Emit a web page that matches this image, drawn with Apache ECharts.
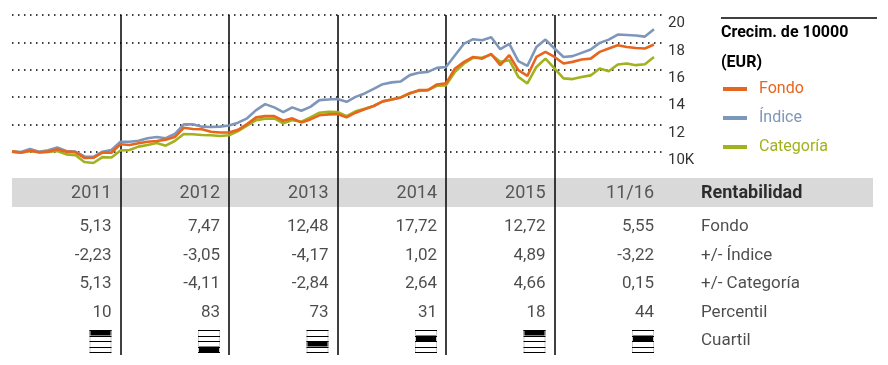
<!DOCTYPE html>
<html>
<head>
<meta charset="utf-8">
<script src="https://cdn.jsdelivr.net/npm/echarts@6/dist/echarts.min.js"></script>
<style>
html,body{margin:0;padding:0;background:#fff;}
#chart{width:888px;height:365px;}
</style>
</head>
<body>
<div id="chart"></div>
<script>
// ---- data ----
const fondo = [10.0,9.93,10.07,9.95,10.0,10.17,10.0,9.97,9.54,9.55,9.93,9.92,
  10.54,10.49,10.61,10.73,10.78,10.88,11.07,11.75,11.66,11.64,11.46,11.4,
  11.4,11.6,12.02,12.51,12.6,12.6,12.26,12.44,12.14,12.36,12.66,12.73,
  12.75,12.51,12.85,13.1,13.34,13.68,13.82,13.97,14.26,14.5,14.5,14.92,
  15.0,16.09,16.57,16.93,16.81,17.15,16.33,17.06,15.96,15.55,16.93,17.3,
  16.93,16.45,16.57,16.74,16.81,17.3,17.55,17.79,17.66,17.59,17.55,17.84];
const indice = [10.0,9.98,10.2,10.0,10.1,10.3,10.05,10.0,9.65,9.62,10.0,10.12,
  10.73,10.73,10.8,10.98,11.07,10.98,11.29,12.0,12.0,11.83,11.8,11.83,
  11.92,12.12,12.44,13.04,13.48,13.24,12.9,13.24,12.99,13.28,13.77,13.82,
  13.85,13.65,14.01,14.26,14.6,14.94,15.07,15.14,15.6,15.77,15.84,16.13,
  16.2,17.06,17.91,18.23,18.15,18.37,17.5,17.88,16.62,16.28,17.66,18.2,
  17.55,16.93,16.99,17.23,17.47,17.96,18.2,18.57,18.54,18.5,18.42,18.96];
const categoria = [10.0,9.95,10.05,9.97,9.98,10.05,9.8,9.75,9.25,9.17,9.6,9.57,
  10.08,10.12,10.37,10.49,10.63,10.44,10.78,11.29,11.27,11.22,11.2,11.15,
  11.2,11.5,11.9,12.31,12.41,12.43,12.07,12.31,12.19,12.51,12.85,12.92,
  12.9,12.6,12.95,13.14,13.34,13.68,13.82,13.97,14.3,14.45,14.5,14.82,
  14.85,15.84,16.45,16.86,16.89,17.1,16.57,16.69,15.47,14.99,16.2,16.81,
  16.09,15.36,15.31,15.47,15.58,16.09,15.89,16.38,16.45,16.33,16.4,16.93];
const periods = ['2011','2012','2013','2014','2015','11/16'];
const headerTitle = 'Rentabilidad';
const rowNames = ['Fondo','+/- Índice','+/- Categoría','Percentil','Cuartil'];
const rowFondo = ['5,13','7,47','12,48','17,72','12,72','5,55'];
const rowIndice = ['-2,23','-3,05','-4,17','1,02','4,89','-3,22'];
const rowCategoria = ['5,13','-4,11','-2,84','2,64','4,66','0,15'];
const rowPercentil = ['10','83','73','31','18','44'];
const quartiles = [1,4,3,2,1,2];
const yTicks = [10,12,14,16,18,20];
const seriesNames = ['Fondo','Índice','Categoría'];
const legendTitle = 'Crecim. de 10000\n(EUR)';

// ---- styles ----
const FONT = "Roboto, 'Liberation Sans', sans-serif";
const COLORS = ['#E8651E','#7E96BA','#A2B21C'];
const MONTHS_PER_PERIOD = 12;
const TOTAL = periods.length * MONTHS_PER_PERIOD;

const chart = echarts.init(document.getElementById('chart'), null, {renderer:'canvas'});

const vSplit = {show:true, showMinLine:false, showMaxLine:false, lineStyle:{color:'#000', width:1.5}};
function tableX(i){
  return {gridIndex:i, type:'value', min:0, max:TOTAL, interval:MONTHS_PER_PERIOD,
    axisLine:{show:false}, axisTick:{show:false}, axisLabel:{show:false}, splitLine:vSplit};
}

const headerData = periods.map((p,j)=>[(j+1)*MONTHS_PER_PERIOD, 0, p]);
const bodyRows = [rowFondo,rowIndice,rowCategoria,rowPercentil];
const bodyData = [];
bodyRows.forEach((row,r)=>row.forEach((t,j)=>bodyData.push([(j+1)*MONTHS_PER_PERIOD, r, t])));
const rowLabelData = rowNames.map((n,r)=>[TOTAL, r, n]);
const quartData = quartiles.map((q,j)=>[(j+1)*MONTHS_PER_PERIOD, 4, q]);

const lineSeries = [fondo,indice,categoria].map((arr,idx)=>({
  name:seriesNames[idx], type:'line', xAxisIndex:0, yAxisIndex:0,
  data:arr.map((v,i)=>[i,v]), showSymbol:false, symbol:'none',
  lineStyle:{color:COLORS[idx], width:2.6}, itemStyle:{color:COLORS[idx]},
  z: 5 - idx
}));

const option = {
  animation:false,
  textStyle:{fontFamily:FONT},
  title:{text:legendTitle, left:721, top:18, padding:0,
    textStyle:{fontFamily:FONT, fontSize:16, fontWeight:'bold', color:'#000', lineHeight:30}},
  legend:{orient:'vertical', left:723, top:79, padding:0, itemGap:9, itemWidth:24, itemHeight:4,
    icon:'rect', selectedMode:false,
    data: seriesNames.map((n,i)=>({name:n, textStyle:{color:COLORS[i]}})),
    textStyle:{fontFamily:FONT, fontSize:16, lineHeight:20, padding:[0,0,0,7]}},
  graphic:[
    {type:'rect', z:-10, silent:true, shape:{x:12, y:178, width:861, height:29}, style:{fill:'#D9D9D9'}},
    {type:'line', silent:true, shape:{x1:721, y1:18, x2:877, y2:18}, style:{stroke:'#000', lineWidth:1.5}}
  ],
  grid:[
    {left:12, top:15, width:651, height:164},
    {left:12, top:179, width:651, height:34},
    {left:12, top:213, width:651, height:142}
  ],
  xAxis:[
    {gridIndex:0, type:'value', min:0, max:TOTAL, interval:MONTHS_PER_PERIOD,
      axisLine:{show:false}, axisTick:{show:false}, axisLabel:{show:false}, splitLine:vSplit},
    tableX(1), tableX(2)
  ],
  yAxis:[
    {gridIndex:0, type:'value', position:'right', min:8, max:20, interval:2,
      axisLine:{show:false}, axisTick:{show:false},
      axisLabel:{showMinLabel:false, margin:5, verticalAlign:'top', align:'left',
        fontFamily:FONT, fontSize:15, color:'#333', padding:[1,0,0,0],
        formatter:v=> v===yTicks[0] ? v+'K' : String(v)},
      splitLine:{show:true, showMinLine:false, lineStyle:{color:'#000', width:1.5, type:[1.5,4.5]}}},
    {gridIndex:1, type:'category', data:[headerTitle], inverse:true,
      axisLine:{show:false}, axisTick:{show:false}, axisLabel:{show:false}, splitLine:{show:false}},
    {gridIndex:2, type:'category', data:rowNames, inverse:true,
      axisLine:{show:false}, axisTick:{show:false}, axisLabel:{show:false}, splitLine:{show:false}}
  ],
  series:[
    ...lineSeries,
    {type:'scatter', xAxisIndex:1, yAxisIndex:1, symbolSize:0, silent:true,
      data:headerData,
      label:{show:true, position:'left', distance:9, offset:[0,-3], formatter:p=>p.value[2],
        fontFamily:FONT, fontSize:18, color:'#333'}},
    {type:'scatter', xAxisIndex:1, yAxisIndex:1, symbolSize:0, silent:true,
      data:[[TOTAL,0,headerTitle]],
      label:{show:true, position:'right', distance:38, offset:[0,-3], formatter:p=>p.value[2],
        fontFamily:FONT, fontSize:18, fontWeight:'bold', color:'#000'}},
    {type:'scatter', xAxisIndex:2, yAxisIndex:2, symbolSize:0, silent:true,
      data:bodyData,
      label:{show:true, position:'left', distance:9, formatter:p=>p.value[2],
        fontFamily:FONT, fontSize:17, color:'#1f1f1f'}},
    {type:'scatter', xAxisIndex:2, yAxisIndex:2, symbolSize:0, silent:true,
      data:rowLabelData,
      label:{show:true, position:'right', distance:38, formatter:p=>p.value[2],
        fontFamily:FONT, fontSize:17, color:'#1f1f1f'}},
    {type:'custom', xAxisIndex:2, yAxisIndex:2, silent:true, data:quartData,
      renderItem:(params, api)=>{
        const pt = api.coord([api.value(0), api.value(1)]);
        const w = 22, h = 22, right = pt[0]-9, x0 = right-w, y0 = Math.round(pt[1]-h/2);
        const q = api.value(2);
        const bh = h/4;
        const children = [];
        children.push({type:'rect', shape:{x:x0, y:y0+(q-1)*bh, width:w, height:bh}, style:{fill:'#000'}});
        children.push({type:'line', shape:{x1:x0+0.5, y1:y0, x2:x0+0.5, y2:y0+h}, style:{stroke:'#ccc', lineWidth:1}});
        children.push({type:'line', shape:{x1:x0+w-0.5, y1:y0, x2:x0+w-0.5, y2:y0+h}, style:{stroke:'#ccc', lineWidth:1}});
        for(let k=0;k<=4;k++){
          const yy = Math.round(y0+k*bh)+0.5;
          children.push({type:'line', shape:{x1:x0, y1:yy, x2:x0+w, y2:yy}, style:{stroke:'#000', lineWidth:1}});
        }
        return {type:'group', children};
      }}
  ]
};
chart.setOption(option);
</script>
</body>
</html>
